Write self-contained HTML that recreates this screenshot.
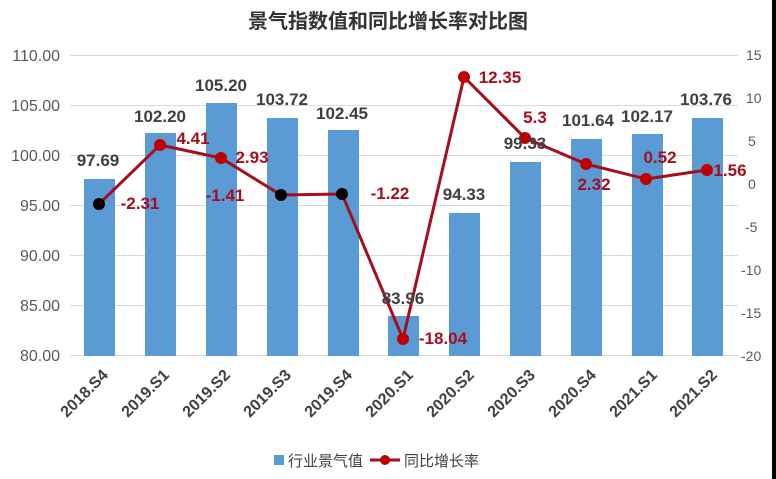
<!DOCTYPE html>
<html><head><meta charset="utf-8"><style>
body{margin:0;background:#fff}
svg{display:block;font-family:"Liberation Sans","Noto Sans CJK SC",sans-serif}
</style></head><body>
<svg width="776" height="479" viewBox="0 0 776 479">
<rect x="0" y="0" width="776" height="479" fill="#fff"/>
<rect x="772" y="0" width="4" height="479" fill="#000"/>
<text x="388" y="28" text-anchor="middle" font-size="20" font-weight="bold" fill="#333">景气指数值和同比增长率对比图</text>
<g stroke="#d9d9d9" stroke-width="1">
<line x1="70" x2="738" y1="55.5" y2="55.5"/><line x1="70" x2="738" y1="105.5" y2="105.5"/>
<line x1="70" x2="738" y1="155.5" y2="155.5"/><line x1="70" x2="738" y1="205.5" y2="205.5"/>
<line x1="70" x2="738" y1="255.5" y2="255.5"/><line x1="70" x2="738" y1="305.5" y2="305.5"/>
<line x1="70" x2="738" y1="355.5" y2="355.5"/>
</g>
<g font-size="16" fill="#595959" text-anchor="end">
<text x="60" y="61">110.00</text><text x="60" y="111">105.00</text><text x="60" y="161">100.00</text>
<text x="60" y="211">95.00</text><text x="60" y="261">90.00</text><text x="60" y="311">85.00</text><text x="60" y="361">80.00</text>
</g>
<g font-size="14" fill="#595959" text-anchor="start">
<text x="746" y="60">15</text><text x="746" y="103">10</text><text x="748" y="146">5</text><text x="748" y="189">0</text>
<text x="745" y="232">-5</text><text x="741" y="275">-10</text><text x="741" y="318">-15</text><text x="741" y="361">-20</text>
</g>
<g fill="#5b9bd5">
<rect x="84" y="179" width="31" height="177"/>
<rect x="145" y="133" width="31" height="223"/>
<rect x="206" y="103" width="31" height="253"/>
<rect x="267" y="118" width="31" height="238"/>
<rect x="328" y="130" width="31" height="226"/>
<rect x="388" y="316" width="31" height="40"/>
<rect x="449" y="213" width="31" height="143"/>
<rect x="510" y="162" width="31" height="194"/>
<rect x="571" y="139" width="31" height="217"/>
<rect x="632" y="134" width="31" height="222"/>
<rect x="692" y="118" width="31" height="238"/>
</g>
<polyline fill="none" stroke="#a50f1c" stroke-width="3" stroke-linejoin="round" points="99,204 160,145 221,158 281,195 342,194 403,339 464,77 525,138 586,164 646,179 707,170"/>
<g fill="#c00000">
<circle cx="160" cy="145" r="6"/><circle cx="221" cy="158" r="6"/><circle cx="403" cy="339" r="6"/>
<circle cx="464" cy="77" r="6"/><circle cx="525" cy="138" r="6"/><circle cx="586" cy="164" r="6"/>
<circle cx="646" cy="179" r="6"/><circle cx="707" cy="170" r="6"/>
</g>
<g fill="#000"><circle cx="99" cy="204" r="6"/><circle cx="281" cy="195" r="6"/><circle cx="342" cy="194" r="6"/></g>
<g font-size="17" font-weight="bold" fill="#404040" text-anchor="middle">
<text x="98" y="166">97.69</text><text x="160" y="122">102.20</text><text x="221" y="91">105.20</text>
<text x="282" y="105">103.72</text><text x="342" y="119">102.45</text><text x="403" y="304">83.96</text>
<text x="464" y="200">94.33</text><text x="525" y="149">99.33</text><text x="588" y="126">101.64</text>
<text x="647" y="122">102.17</text><text x="706" y="105">103.76</text>
</g>
<g font-size="17" font-weight="bold" fill="#a50f1c" text-anchor="middle">
<text x="140" y="209">-2.31</text><text x="193" y="144">4.41</text><text x="252" y="163">2.93</text>
<text x="225" y="201">-1.41</text><text x="390" y="199">-1.22</text><text x="443" y="344">-18.04</text>
<text x="500" y="83">12.35</text><text x="535" y="123">5.3</text><text x="594" y="190">2.32</text>
<text x="660" y="163">0.52</text><text x="730" y="176">1.56</text>
</g>
<g font-size="16" font-weight="bold" fill="#404040" text-anchor="end">
<text transform="translate(109,376) rotate(-45)">2018.S4</text>
<text transform="translate(170,376) rotate(-45)">2019.S1</text>
<text transform="translate(231,376) rotate(-45)">2019.S2</text>
<text transform="translate(292,376) rotate(-45)">2019.S3</text>
<text transform="translate(353,376) rotate(-45)">2019.S4</text>
<text transform="translate(414,376) rotate(-45)">2020.S1</text>
<text transform="translate(475,376) rotate(-45)">2020.S2</text>
<text transform="translate(536,376) rotate(-45)">2020.S3</text>
<text transform="translate(597,376) rotate(-45)">2020.S4</text>
<text transform="translate(658,376) rotate(-45)">2021.S1</text>
<text transform="translate(718,376) rotate(-45)">2021.S2</text>
</g>
<rect x="274" y="455" width="10" height="10" fill="#5b9bd5"/>
<text x="288" y="466" font-size="15" fill="#404040">行业景气值</text>
<line x1="370" x2="400" y1="460" y2="460" stroke="#a50f1c" stroke-width="3"/>
<circle cx="385" cy="460" r="5" fill="#c00000"/>
<text x="404" y="466" font-size="15" fill="#404040">同比增长率</text>
</svg>
</body></html>
